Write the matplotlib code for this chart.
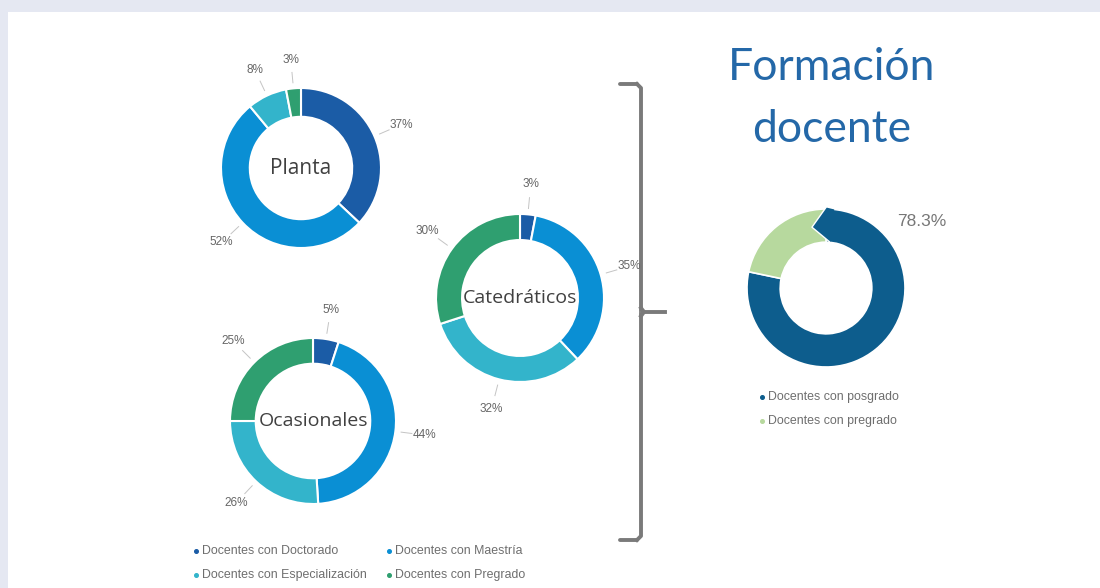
import numpy as np
import matplotlib
matplotlib.use("Agg")
import matplotlib.pyplot as plt
from matplotlib.patches import Rectangle, Polygon

W, H = 1100, 588

# -----------------------------
# Datos
# -----------------------------
categorias = ["Docentes con Doctorado", "Docentes con Maestría",
              "Docentes con Especialización", "Docentes con Pregrado"]
colores = ["#1b5ca6", "#0a8fd4", "#33b4cb", "#2f9f70"]

planta = [37, 52, 8, 3]
catedraticos = [3, 35, 32, 30]
ocasionales = [5, 44, 26, 25]

formacion_labels = ["Docentes con posgrado", "Docentes con pregrado"]
formacion = [78.3, 21.7]
formacion_colores = ["#0d5d8d", "#b7d99e"]

GRIS = "#7a7a7a"

fig = plt.figure(figsize=(W / 100, H / 100), dpi=100)
fig.patch.set_facecolor("#e5e8f2")

# fondo / capa en pixeles
bg = fig.add_axes([0, 0, 1, 1])
bg.set_xlim(0, W)
bg.set_ylim(H, 0)
bg.axis("off")
bg.add_patch(Rectangle((8, 12), W - 8, H - 12, facecolor="white", edgecolor="none"))


def donut_ax(cx, cy, r):
    ax = fig.add_axes([(cx - 1.6 * r) / W, 1 - (cy + 1.6 * r) / H, 3.2 * r / W, 3.2 * r / H])
    ax.set_xlim(-1.6, 1.6)
    ax.set_ylim(-1.6, 1.6)
    ax.set_aspect("equal")
    ax.axis("off")
    return ax


def donut(cx, cy, r, valores, titulo, ancho, tsize):
    ax = donut_ax(cx, cy, r)
    wedges, _ = ax.pie(valores, colors=colores, startangle=90, counterclock=False,
                       radius=1, wedgeprops=dict(width=ancho, edgecolor="white", linewidth=1.5))
    ax.set_xlim(-1.6, 1.6)
    ax.set_ylim(-1.6, 1.6)
    for w, v in zip(wedges, valores):
        ang = np.deg2rad((w.theta1 + w.theta2) / 2)
        c, s = np.cos(ang), np.sin(ang)
        ax.plot([1.07 * c, 1.2 * c], [1.07 * s, 1.2 * s], color="#c4c4c4", lw=0.7)
        ax.text(1.36 * c, 1.36 * s, f"{v}%", ha="center", va="center",
                fontsize=8.5, color="#666666", family="Liberation Sans")
    ax.text(0, 0, titulo, ha="center", va="center", fontsize=tsize,
            color="#404040", family="Open Sans")
    return ax


donut(301, 168, 80, planta, "Planta", 0.36, 15)
donut(520, 298, 84, catedraticos, "Catedráticos", 0.31, 14)
donut(313, 421, 83, ocasionales, "Ocasionales", 0.31, 14)

# -----------------------------
# Leyenda izquierda
# -----------------------------
leg_pos = [(196, 551), (389, 551), (196, 575), (389, 575)]
for (x, y), lab, col in zip(leg_pos, categorias, colores):
    bg.plot(x, y, marker="o", ms=2.6, color=col, mec=col)
    bg.text(x + 6, y, lab, ha="left", va="center", fontsize=8.9,
            color="#6e6e6e", family="Liberation Sans")

# -----------------------------
# Llave
# -----------------------------
bx = 641
bg.plot([620, bx - 4], [84, 84], color=GRIS, lw=2.8, solid_capstyle="round")
bg.plot([bx - 4, bx, bx], [84, 88, 310], color=GRIS, lw=2.8)
bg.plot([bx, bx, bx - 4], [314, 536, 540], color=GRIS, lw=2.8)
bg.plot([bx - 4, 620], [540, 540], color=GRIS, lw=2.8, solid_capstyle="round")
bg.plot([bx, bx + 3, 665], [308, 312, 312], color=GRIS, lw=2.8)
bg.plot([bx, bx + 3], [316, 312], color=GRIS, lw=2.8)

# -----------------------------
# Título
# -----------------------------
bg.text(832, 68, "Formación", ha="center", va="center", fontsize=32,
        color="#2468a8", family="Lato")
bg.text(832, 130, "docente", ha="center", va="center", fontsize=32,
        color="#2468a8", family="Lato")

# -----------------------------
# Dona derecha
# -----------------------------
axf = donut_ax(826, 288, 79)
wf, _ = axf.pie(formacion, colors=formacion_colores, startangle=90, counterclock=False,
                radius=1, wedgeprops=dict(width=0.42, edgecolor="white", linewidth=1.2))
axf.set_xlim(-1.6, 1.6)
axf.set_ylim(-1.6, 1.6)


# punta de flecha al inicio del segmento principal
def polar(deg, rr):
    t = np.deg2rad(deg)
    return (rr * np.cos(t), rr * np.sin(t))


a0 = wf[0].theta2
punta = [polar(a0, 1.02), polar(a0 + 13, 0.79), polar(a0 - 6, 0.575), polar(a0 - 6, 1.0)]
axf.add_patch(Polygon(punta, closed=True, facecolor=formacion_colores[0], edgecolor="none"))
borde = np.array(punta[:3])
axf.plot(borde[:, 0], borde[:, 1], color="white", lw=1.0)

bg.text(897, 222, f"{formacion[0]}%", ha="left", va="center", fontsize=12.5,
        color="#777777", family="Liberation Sans")

for (y, lab, col) in zip([397, 421], formacion_labels, formacion_colores):
    bg.plot(762, y, marker="o", ms=2.6, color=col, mec=col)
    bg.text(768, y, lab, ha="left", va="center", fontsize=8.9,
            color="#6e6e6e", family="Liberation Sans")

plt.savefig("out.png", dpi=100, facecolor=fig.get_facecolor())
